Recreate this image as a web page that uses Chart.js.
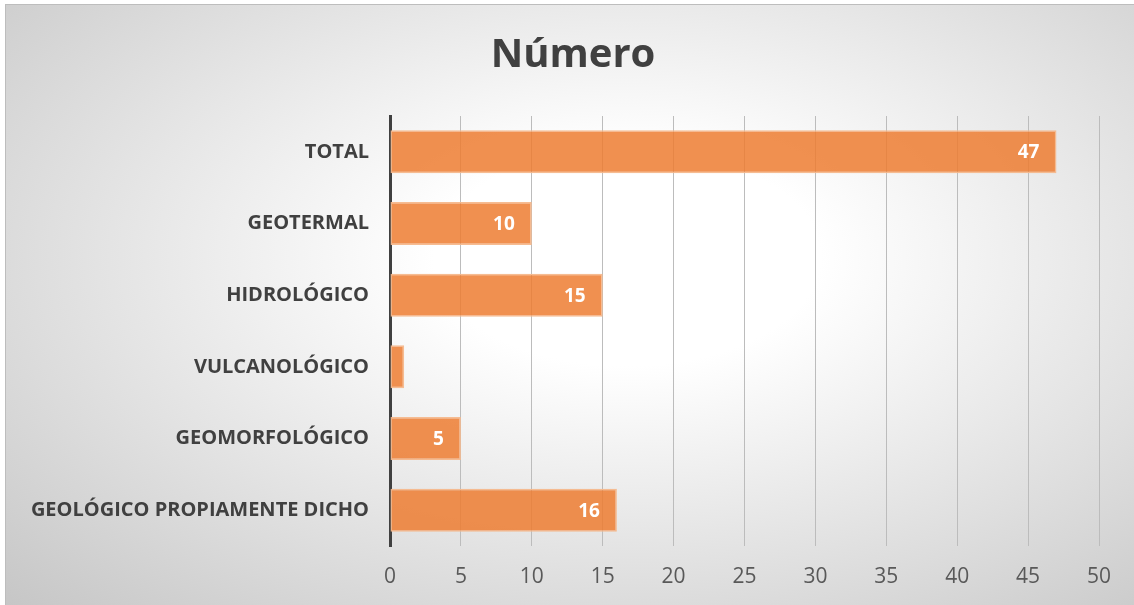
<!DOCTYPE html>
<html>
<head>
<meta charset="utf-8">
<script src="https://cdn.jsdelivr.net/npm/chart.js@4.4.1/dist/chart.umd.min.js"></script>
<style>
  html, body { margin: 0; padding: 0; background: #ffffff; }
  #bg {
    position: absolute; left: 5px; top: 4px; width: 1129px; height: 601px;
    border-top: 1px solid #bdbdbd; border-left: 1px solid #bdbdbd;
    background: radial-gradient(ellipse farthest-corner at 55% 42%, #ffffff 0%, #ffffff 22%, #c6c6c6 100%);
  }
  #wrap { position: absolute; left: 0; top: 0; width: 1134px; height: 605px; }
</style>
</head>
<body>
<div id="bg"></div>
<div id="wrap"><canvas id="c" width="1134" height="605"></canvas></div>
<script>
const chartTitle = 'Número';
const categories = ['TOTAL', 'GEOTERMAL', 'HIDROLÓGICO', 'VULCANOLÓGICO', 'GEOMORFOLÓGICO', 'GEOLÓGICO PROPIAMENTE DICHO'];
const values = [47, 10, 15, 1, 5, 16];
const xTicks = [0, 5, 10, 15, 20, 25, 30, 35, 40, 45, 50];

const FONT = '"Open Sans", "Noto Sans", sans-serif';

const barLabels = {
  id: 'barLabels',
  afterDatasetsDraw(chart) {
    const ctx = chart.ctx;
    const meta = chart.getDatasetMeta(0);
    ctx.save();
    ctx.font = 'bold 19px ' + FONT;
    ctx.fillStyle = '#ffffff';
    ctx.textAlign = 'right';
    ctx.textBaseline = 'middle';
    meta.data.forEach((bar, i) => {
      const txt = String(values[i]);
      const w = ctx.measureText(txt).width;
      const barW = bar.x - bar.base;
      if (w + 20 < barW) {
        ctx.fillText(txt, bar.x - 17, bar.y + 1);
      }
    });
    ctx.restore();
  }
};

new Chart(document.getElementById('c'), {
  type: 'bar',
  data: {
    labels: categories,
    datasets: [{
      data: values,
      backgroundColor: 'rgba(237,125,49,0.85)',
      borderColor: 'rgba(246,184,140,0.95)',
      borderWidth: 1.5,
      borderSkipped: false,
      categoryPercentage: 1.0,
      barPercentage: 0.6
    }]
  },
  options: {
    indexAxis: 'y',
    responsive: false,
    animation: false,
    layout: { padding: { left: 12, right: 0, top: 0, bottom: 0 } },
    plugins: {
      legend: { display: false },
      tooltip: { enabled: false },
      title: {
        display: true,
        text: chartTitle,
        color: '#404040',
        font: { family: FONT, size: 40, weight: 'bold', lineHeight: 1.2 },
        padding: { top: 32, bottom: 36 }
      }
    },
    scales: {
      x: {
        type: 'linear',
        min: 0, max: 50,
        afterBuildTicks: s => { s.ticks = xTicks.map(v => ({ value: v })); },
        afterFit: s => { s.height = 59; },
        grid: { color: '#bcbcbc', lineWidth: 1, drawTicks: false },
        border: { display: false },
        ticks: { color: '#595959', padding: 18, font: { family: FONT, size: 21 } }
      },
      y: {
        type: 'category',
        afterFit: s => { s.width = 378; },
        grid: { display: false, drawTicks: false },
        border: { display: true, color: '#404040', width: 3 },
        ticks: { color: '#404040', padding: 21, font: { family: FONT, size: 20, weight: 'bold' } }
      },
      y2: {
        type: 'linear',
        position: 'right',
        display: true,
        afterFit: s => { s.width = 35; },
        grid: { display: false, drawTicks: false },
        border: { display: false },
        ticks: { display: false }
      }
    }
  },
  plugins: [barLabels]
});
</script>
</body>
</html>
